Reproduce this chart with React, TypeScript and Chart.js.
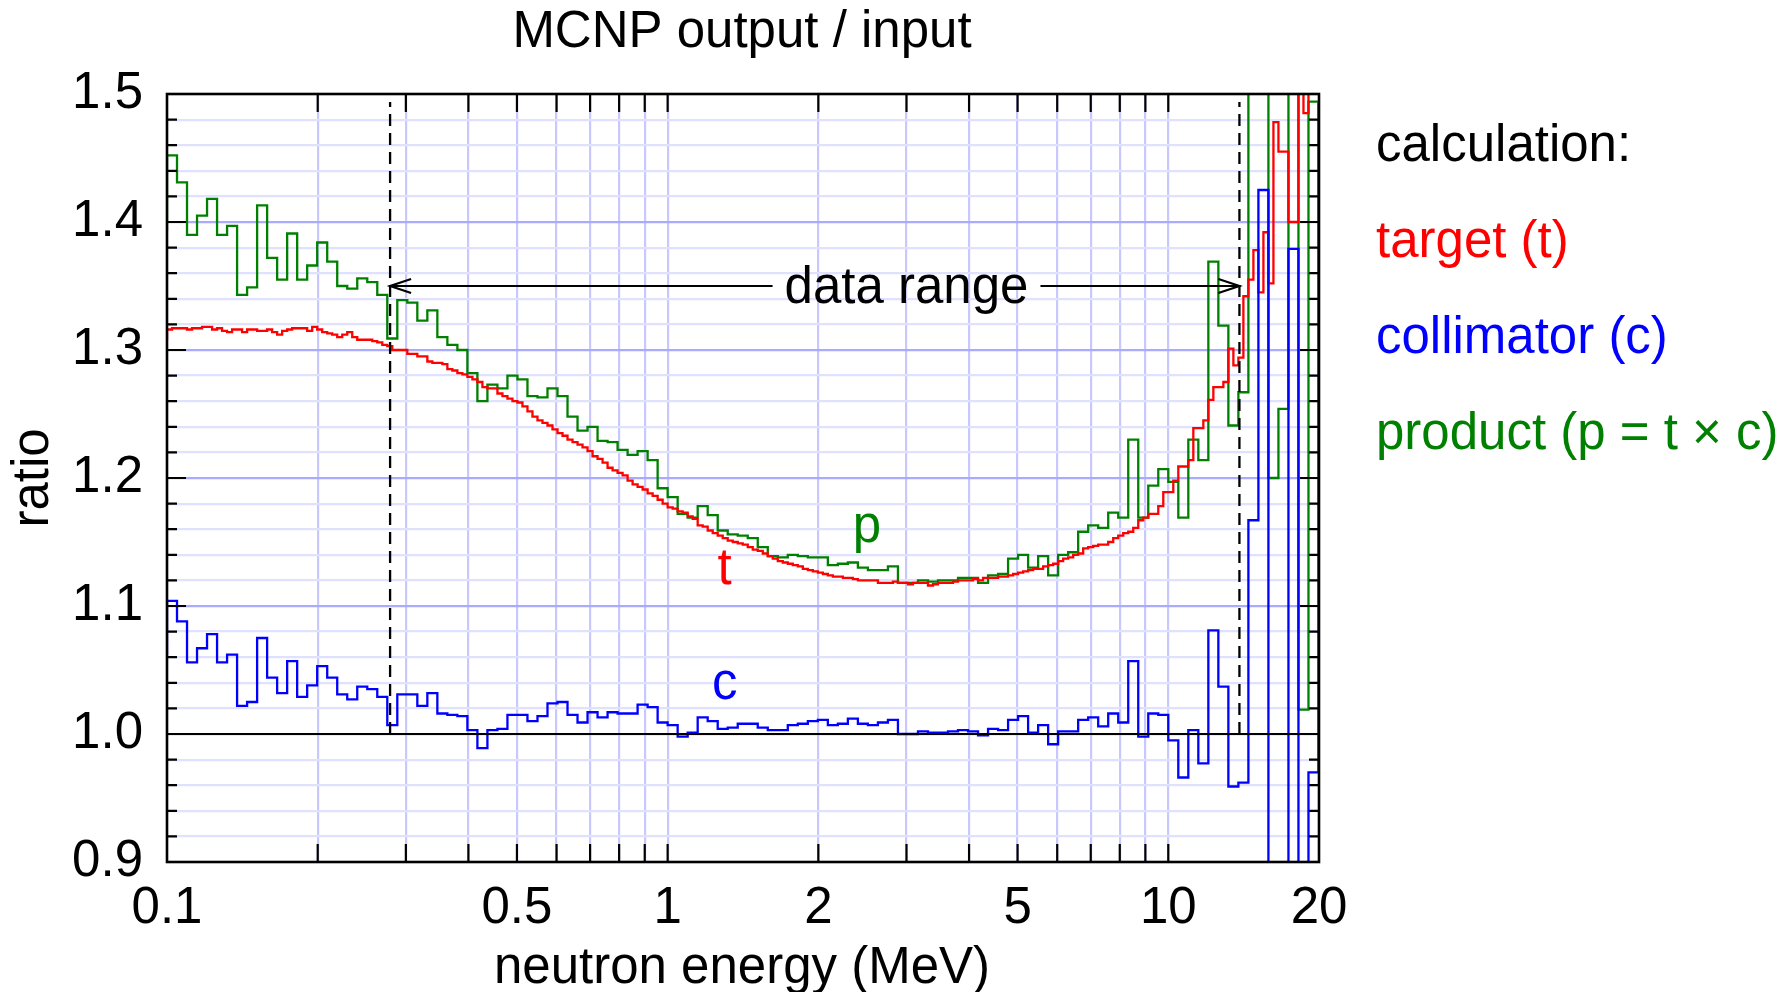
import React, { useEffect, useRef } from "react";
import { Chart, registerables } from "chart.js";

Chart.register(...registerables);

// ---------------- data ----------------
// Histograms with log-uniform energy bins starting at 0.1 MeV.
const E_MIN = 0.1; // MeV, left edge of first bin
const COARSE_BINS_PER_DECADE = 50; // collimator & product (0.02 decade bins)
const FINE_BINS_PER_DECADE = 100; // target (0.01 decade bins)

// product (p = t x c), 115 bins
const productRatio = [
  1.452, 1.431, 1.39, 1.405, 1.418, 1.39, 1.397, 1.343, 1.349, 1.413,
  1.372, 1.355, 1.391, 1.355, 1.366, 1.384, 1.369, 1.35, 1.348, 1.356,
  1.353, 1.343, 1.309, 1.339, 1.337, 1.323, 1.331, 1.31, 1.304, 1.3,
  1.282, 1.26, 1.273, 1.27, 1.28, 1.277, 1.264, 1.263, 1.27, 1.264,
  1.248, 1.237, 1.24, 1.229, 1.228, 1.222, 1.218, 1.221, 1.214, 1.192,
  1.185, 1.172, 1.169, 1.178, 1.171, 1.159, 1.156, 1.155, 1.153, 1.146,
  1.139, 1.138, 1.14, 1.139, 1.138, 1.138, 1.132, 1.133, 1.134, 1.13,
  1.128, 1.128, 1.131, 1.118, 1.118, 1.12, 1.119, 1.12, 1.12, 1.122,
  1.122, 1.118, 1.124, 1.125, 1.137, 1.14, 1.13, 1.139, 1.124, 1.14,
  1.142, 1.158, 1.163, 1.161, 1.173, 1.169, 1.23, 1.169, 1.194, 1.207,
  1.197, 1.169, 1.23, 1.214, 1.369, 1.319, 1.241, 1.267, 1.58, 1.95,
  1.2, 1.254, 2.0, 1.019, 1.494,
];

// collimator (c), 115 bins
const collimatorRatio = [
  1.104, 1.088, 1.056, 1.067, 1.078, 1.056, 1.062, 1.022, 1.025, 1.075,
  1.044, 1.032, 1.057, 1.029, 1.038, 1.053, 1.044, 1.031, 1.027, 1.037,
  1.035, 1.029, 1.007, 1.031, 1.031, 1.022, 1.032, 1.016, 1.015, 1.014,
  1.003, 0.989, 1.003, 1.004, 1.015, 1.015, 1.01, 1.014, 1.024, 1.025,
  1.015, 1.009, 1.017, 1.013, 1.017, 1.016, 1.016, 1.023, 1.021, 1.009,
  1.007, 0.998, 1.001, 1.013, 1.01, 1.004, 1.005, 1.008, 1.008, 1.005,
  1.003, 1.003, 1.007, 1.008, 1.01, 1.011, 1.007, 1.008, 1.012, 1.008,
  1.007, 1.009, 1.011, 1.0, 1.0, 1.002, 1.001, 1.001, 1.002, 1.003,
  1.002, 0.999, 1.004, 1.003, 1.011, 1.014, 1.001, 1.007, 0.992, 1.002,
  1.002, 1.011, 1.013, 1.006, 1.016, 1.009, 1.057, 0.998, 1.016, 1.015,
  0.995, 0.966, 1.003, 0.977, 1.081, 1.037, 0.959, 0.962, 1.167, 1.425,
  0.85, 0.86, 1.379, 0.67, 0.97,
];

// target (t), 230 bins
const targetRatio = [
  1.316, 1.317, 1.317, 1.317, 1.316, 1.317, 1.317, 1.318, 1.318, 1.316,
  1.317, 1.315, 1.314, 1.316, 1.316, 1.314, 1.316, 1.316, 1.315, 1.315,
  1.316, 1.314, 1.312, 1.315, 1.316, 1.317, 1.317, 1.317, 1.315, 1.318,
  1.316, 1.314, 1.313, 1.312, 1.31, 1.312, 1.314, 1.31, 1.308, 1.308,
  1.308, 1.307, 1.306, 1.304, 1.303, 1.3, 1.3, 1.3, 1.297, 1.297,
  1.295, 1.295, 1.291, 1.29, 1.29, 1.289, 1.285, 1.284, 1.282, 1.281,
  1.279, 1.277, 1.275, 1.271, 1.27, 1.27, 1.266, 1.264, 1.262, 1.26,
  1.259, 1.256, 1.252, 1.248, 1.245, 1.243, 1.241, 1.238, 1.235, 1.233,
  1.23, 1.228, 1.226, 1.224, 1.221, 1.217, 1.215, 1.212, 1.208, 1.206,
  1.204, 1.202, 1.198, 1.195, 1.193, 1.191, 1.188, 1.186, 1.183, 1.18,
  1.177, 1.176, 1.174, 1.173, 1.17, 1.168, 1.163, 1.162, 1.159, 1.157,
  1.155, 1.153, 1.151, 1.15, 1.149, 1.148, 1.146, 1.144, 1.143, 1.141,
  1.139, 1.137, 1.135, 1.134, 1.133, 1.132, 1.131, 1.129, 1.128, 1.127,
  1.126, 1.125, 1.124, 1.123, 1.123, 1.122, 1.122, 1.121, 1.12, 1.12,
  1.12, 1.12, 1.118, 1.118, 1.118, 1.119, 1.118, 1.118, 1.117, 1.118,
  1.118, 1.118, 1.116, 1.117, 1.118, 1.118, 1.118, 1.119, 1.12, 1.12,
  1.12, 1.121, 1.12, 1.122, 1.122, 1.122, 1.123, 1.123, 1.124, 1.125,
  1.126, 1.127, 1.128, 1.129, 1.129, 1.131, 1.132, 1.133, 1.135, 1.137,
  1.138, 1.14, 1.141, 1.145, 1.146, 1.147, 1.148, 1.148, 1.15, 1.153,
  1.155, 1.157, 1.158, 1.161, 1.167, 1.169, 1.172, 1.172, 1.178, 1.189,
  1.189, 1.198, 1.209, 1.209, 1.214, 1.239, 1.239, 1.245, 1.261, 1.271,
  1.271, 1.275, 1.301, 1.288, 1.294, 1.342, 1.355, 1.378, 1.345, 1.392,
  1.352, 1.478, 1.455, 1.455, 1.4, 1.4, 1.55, 1.485, 1.55, 1.55,
];

// value of the bin just below 0.1 MeV (only its step edge shows) and after 20 MeV
const targetOuter = [1.309, 1.55];
const collimatorOuter = [1.0625, 1.493];
const productOuter = [1.394, 1.494];

const xTickValues = [0.1, 0.2, 0.3, 0.4, 0.5, 0.6, 0.7, 0.8, 0.9, 1, 2, 3, 4, 5, 6, 7, 8, 9, 10, 20];
const xTickLabels = ["0.1", "0.5", "1", "2", "5", "10", "20"];
const yTickLabels = ["0.9", "1.0", "1.1", "1.2", "1.3", "1.4", "1.5"];
const Y_MIN = 0.9;
const Y_MAX = 1.5;
const Y_MINOR_STEPS = 30; // 0.02 per step

const dataRange = [0.279, 13.87]; // MeV
const dataRangeArrowY = 1.35;
const dataRangeLabelX = 3.0;

const curveLabels = [
  { text: "p", x: 2.5, y: 1.15, color: "#008000" },
  { text: "t", x: 1.3, y: 1.117, color: "#ff0000" },
  { text: "c", x: 1.3, y: 1.027, color: "#0000ff" },
];

const legendLines = [
  { text: "calculation:", color: "#000000" },
  { text: "target (t)", color: "#ff0000" },
  { text: "collimator (c)", color: "#0000ff" },
  { text: "product (p = t \u00d7 c)", color: "#008000" },
];

// ---------------- helpers ----------------
const FONT = "'Liberation Sans', Arial, Helvetica, sans-serif";
const FS = 51;
const LINE_W = 2.3;

function histPoints(values: number[], perDecade: number, outer: number[]) {
  const edge = (i: number) => E_MIN * Math.pow(10, i / perDecade);
  const pts = [{ x: edge(-1), y: outer[0] }];
  values.forEach((v, i) => pts.push({ x: edge(i), y: v }));
  pts.push({ x: edge(values.length), y: outer[1] });
  return pts;
}

const yTickValues = Array.from({ length: Y_MINOR_STEPS + 1 }, (_, k) =>
  Math.round((Y_MIN + (k * (Y_MAX - Y_MIN)) / Y_MINOR_STEPS) * 1000) / 1000
);
const isMajorY = (v: number) => Math.round(v * 100) % 10 === 0;

const decor = {
  id: "decor",
  afterDatasetsDraw(chart: any) {
    const { ctx, chartArea: ca, scales } = chart;
    const xs = scales.x;
    const ys = scales.y;
    ctx.save();
    ctx.strokeStyle = "#000";
    ctx.lineCap = "butt";

    // unity line
    const y1 = ys.getPixelForValue(1.0);
    ctx.lineWidth = 2.2;
    ctx.beginPath();
    ctx.moveTo(ca.left, y1);
    ctx.lineTo(ca.right, y1);
    ctx.stroke();

    // data range dashed lines
    ctx.lineWidth = 2.3;
    ctx.setLineDash([12, 7]);
    for (const e of dataRange) {
      const px = xs.getPixelForValue(e);
      ctx.beginPath();
      ctx.moveTo(px, y1);
      ctx.lineTo(px, ca.top + 8);
      ctx.stroke();
    }
    ctx.setLineDash([]);

    // data range arrow with label
    ctx.font = `${FS}px ${FONT}`;
    const ay = ys.getPixelForValue(dataRangeArrowY);
    const lx = xs.getPixelForValue(dataRangeLabelX);
    const tw = ctx.measureText("data range").width;
    const xa = xs.getPixelForValue(dataRange[0]);
    const xb = xs.getPixelForValue(dataRange[1]);
    const gap = 12;
    ctx.lineWidth = 2.2;
    ctx.beginPath();
    ctx.moveTo(xa, ay);
    ctx.lineTo(lx - tw / 2 - gap, ay);
    ctx.moveTo(lx + tw / 2 + gap, ay);
    ctx.lineTo(xb, ay);
    // arrow heads
    ctx.moveTo(xa + 21, ay - 7);
    ctx.lineTo(xa, ay);
    ctx.lineTo(xa + 21, ay + 7);
    ctx.moveTo(xb - 21, ay - 7);
    ctx.lineTo(xb, ay);
    ctx.lineTo(xb - 21, ay + 7);
    ctx.stroke();
    ctx.fillStyle = "#000";
    ctx.textAlign = "center";
    ctx.textBaseline = "middle";
    ctx.fillText("data range", lx, ay + 3);

    // curve labels
    ctx.textBaseline = "alphabetic";
    for (const l of curveLabels) {
      ctx.fillStyle = l.color;
      ctx.fillText(l.text, xs.getPixelForValue(l.x), ys.getPixelForValue(l.y));
    }

    // inward tick marks
    ctx.strokeStyle = "#000";
    ctx.lineWidth = 2.2;
    ctx.beginPath();
    for (const v of xTickValues) {
      if (v === xTickValues[0] || v === xTickValues[xTickValues.length - 1]) continue;
      const px = xs.getPixelForValue(v);
      ctx.moveTo(px, ca.bottom);
      ctx.lineTo(px, ca.bottom - 18);
      ctx.moveTo(px, ca.top);
      ctx.lineTo(px, ca.top + 18);
    }
    for (const v of yTickValues) {
      if (v === Y_MIN || v === Y_MAX) continue;
      const py = ys.getPixelForValue(v);
      const len = isMajorY(v) ? 19 : 10;
      ctx.moveTo(ca.left, py);
      ctx.lineTo(ca.left + len, py);
      ctx.moveTo(ca.right, py);
      ctx.lineTo(ca.right - len, py);
    }
    ctx.stroke();

    // frame
    ctx.lineWidth = 2.6;
    ctx.strokeRect(ca.left, ca.top, ca.right - ca.left, ca.bottom - ca.top);
    ctx.restore();
  },
  afterDraw(chart: any) {
    const { ctx } = chart;
    ctx.save();
    ctx.font = `${FS}px ${FONT}`;
    ctx.fillStyle = "#000";
    ctx.textAlign = "center";
    ctx.textBaseline = "middle";
    ctx.fillText("MCNP output / input", 742, 33);
    ctx.fillText("neutron energy (MeV)", 742, 969);
    ctx.save();
    ctx.translate(34, 478);
    ctx.rotate(-Math.PI / 2);
    ctx.fillText("ratio", 0, 0);
    ctx.restore();
    ctx.textAlign = "left";
    legendLines.forEach((l, i) => {
      ctx.fillStyle = l.color;
      ctx.fillText(l.text, 1376, 147 + i * 96);
    });
    ctx.restore();
  },
};

export default function App() {
  const ref = useRef<HTMLCanvasElement>(null);
  useEffect(() => {
    const canvas = ref.current;
    if (!canvas) return;
    const lineDs = (label: string, data: any[], color: string) => ({
      label,
      data,
      borderColor: color,
      backgroundColor: color,
      borderWidth: LINE_W,
      pointRadius: 0,
      stepped: "before" as const,
      fill: false,
      tension: 0,
    });
    const chart = new Chart(canvas, {
      type: "line",
      data: {
        datasets: [
          lineDs("collimator (c)", histPoints(collimatorRatio, COARSE_BINS_PER_DECADE, collimatorOuter), "#0000ff"),
          lineDs("target (t)", histPoints(targetRatio, FINE_BINS_PER_DECADE, targetOuter), "#ff0000"),
          lineDs("product (p = t \u00d7 c)", histPoints(productRatio, COARSE_BINS_PER_DECADE, productOuter), "#008000"),
        ],
      },
      options: {
        responsive: false,
        animation: false,
        devicePixelRatio: 1,
        layout: { padding: { left: 0, top: 94, right: 469, bottom: 0 } },
        plugins: {
          legend: { display: false },
          tooltip: { enabled: false },
          title: { display: false },
        },
        scales: {
          x: {
            type: "logarithmic",
            position: "bottom",
            min: 0.1,
            max: 20,
            afterBuildTicks: (scale: any) => {
              scale.ticks = xTickValues.map((v) => ({ value: v }));
            },
            afterFit: (scale: any) => {
              scale.height = 130;
              scale.paddingLeft = 0;
              scale.paddingRight = 0;
            },
            ticks: {
              autoSkip: false,
              maxRotation: 0,
              minRotation: 0,
              padding: 16,
              color: "#000",
              font: { family: FONT, size: FS },
              callback: (v: any) => {
                const s = xTickLabels.find((l) => Math.abs(Number(l) - Number(v)) < 1e-9);
                return s ?? "";
              },
            },
            grid: {
              drawTicks: false,
              lineWidth: 2.2,
              color: (c: any) => {
                const v = c.tick ? c.tick.value : 0;
                if (Math.abs(v - 0.1) < 1e-9 || Math.abs(v - 20) < 1e-9) return "rgba(0,0,0,0)";
                return "#c8c8ff";
              },
            },
            border: { display: false },
          },
          y: {
            type: "linear",
            min: Y_MIN,
            max: Y_MAX,
            afterBuildTicks: (scale: any) => {
              scale.ticks = yTickValues.map((v) => ({ value: v }));
            },
            afterFit: (scale: any) => {
              scale.width = 167;
              scale.paddingTop = 0;
              scale.paddingBottom = 0;
            },
            ticks: {
              autoSkip: false,
              padding: 24,
              color: "#000",
              font: { family: FONT, size: FS },
              callback: (v: any) => {
                const s = yTickLabels.find((l) => Math.abs(Number(l) - Number(v)) < 1e-9);
                return s ?? "";
              },
            },
            grid: {
              drawTicks: false,
              lineWidth: 2.2,
              color: (c: any) => {
                const v = c.tick ? c.tick.value : 0;
                if (Math.abs(v - Y_MIN) < 1e-9 || Math.abs(v - Y_MAX) < 1e-9) return "rgba(0,0,0,0)";
                return isMajorY(v) ? "#aaaaff" : "#e0e0ff";
              },
            },
            border: { display: false },
          },
        },
      },
      plugins: [decor],
    } as any);
    return () => chart.destroy();
  }, []);

  return (
    <div style={{ position: "absolute", left: 0, top: 0, width: 1788, height: 992, background: "#ffffff" }}>
      <canvas ref={ref} width={1788} height={992} style={{ display: "block", width: 1788, height: 992 }} />
    </div>
  );
}
